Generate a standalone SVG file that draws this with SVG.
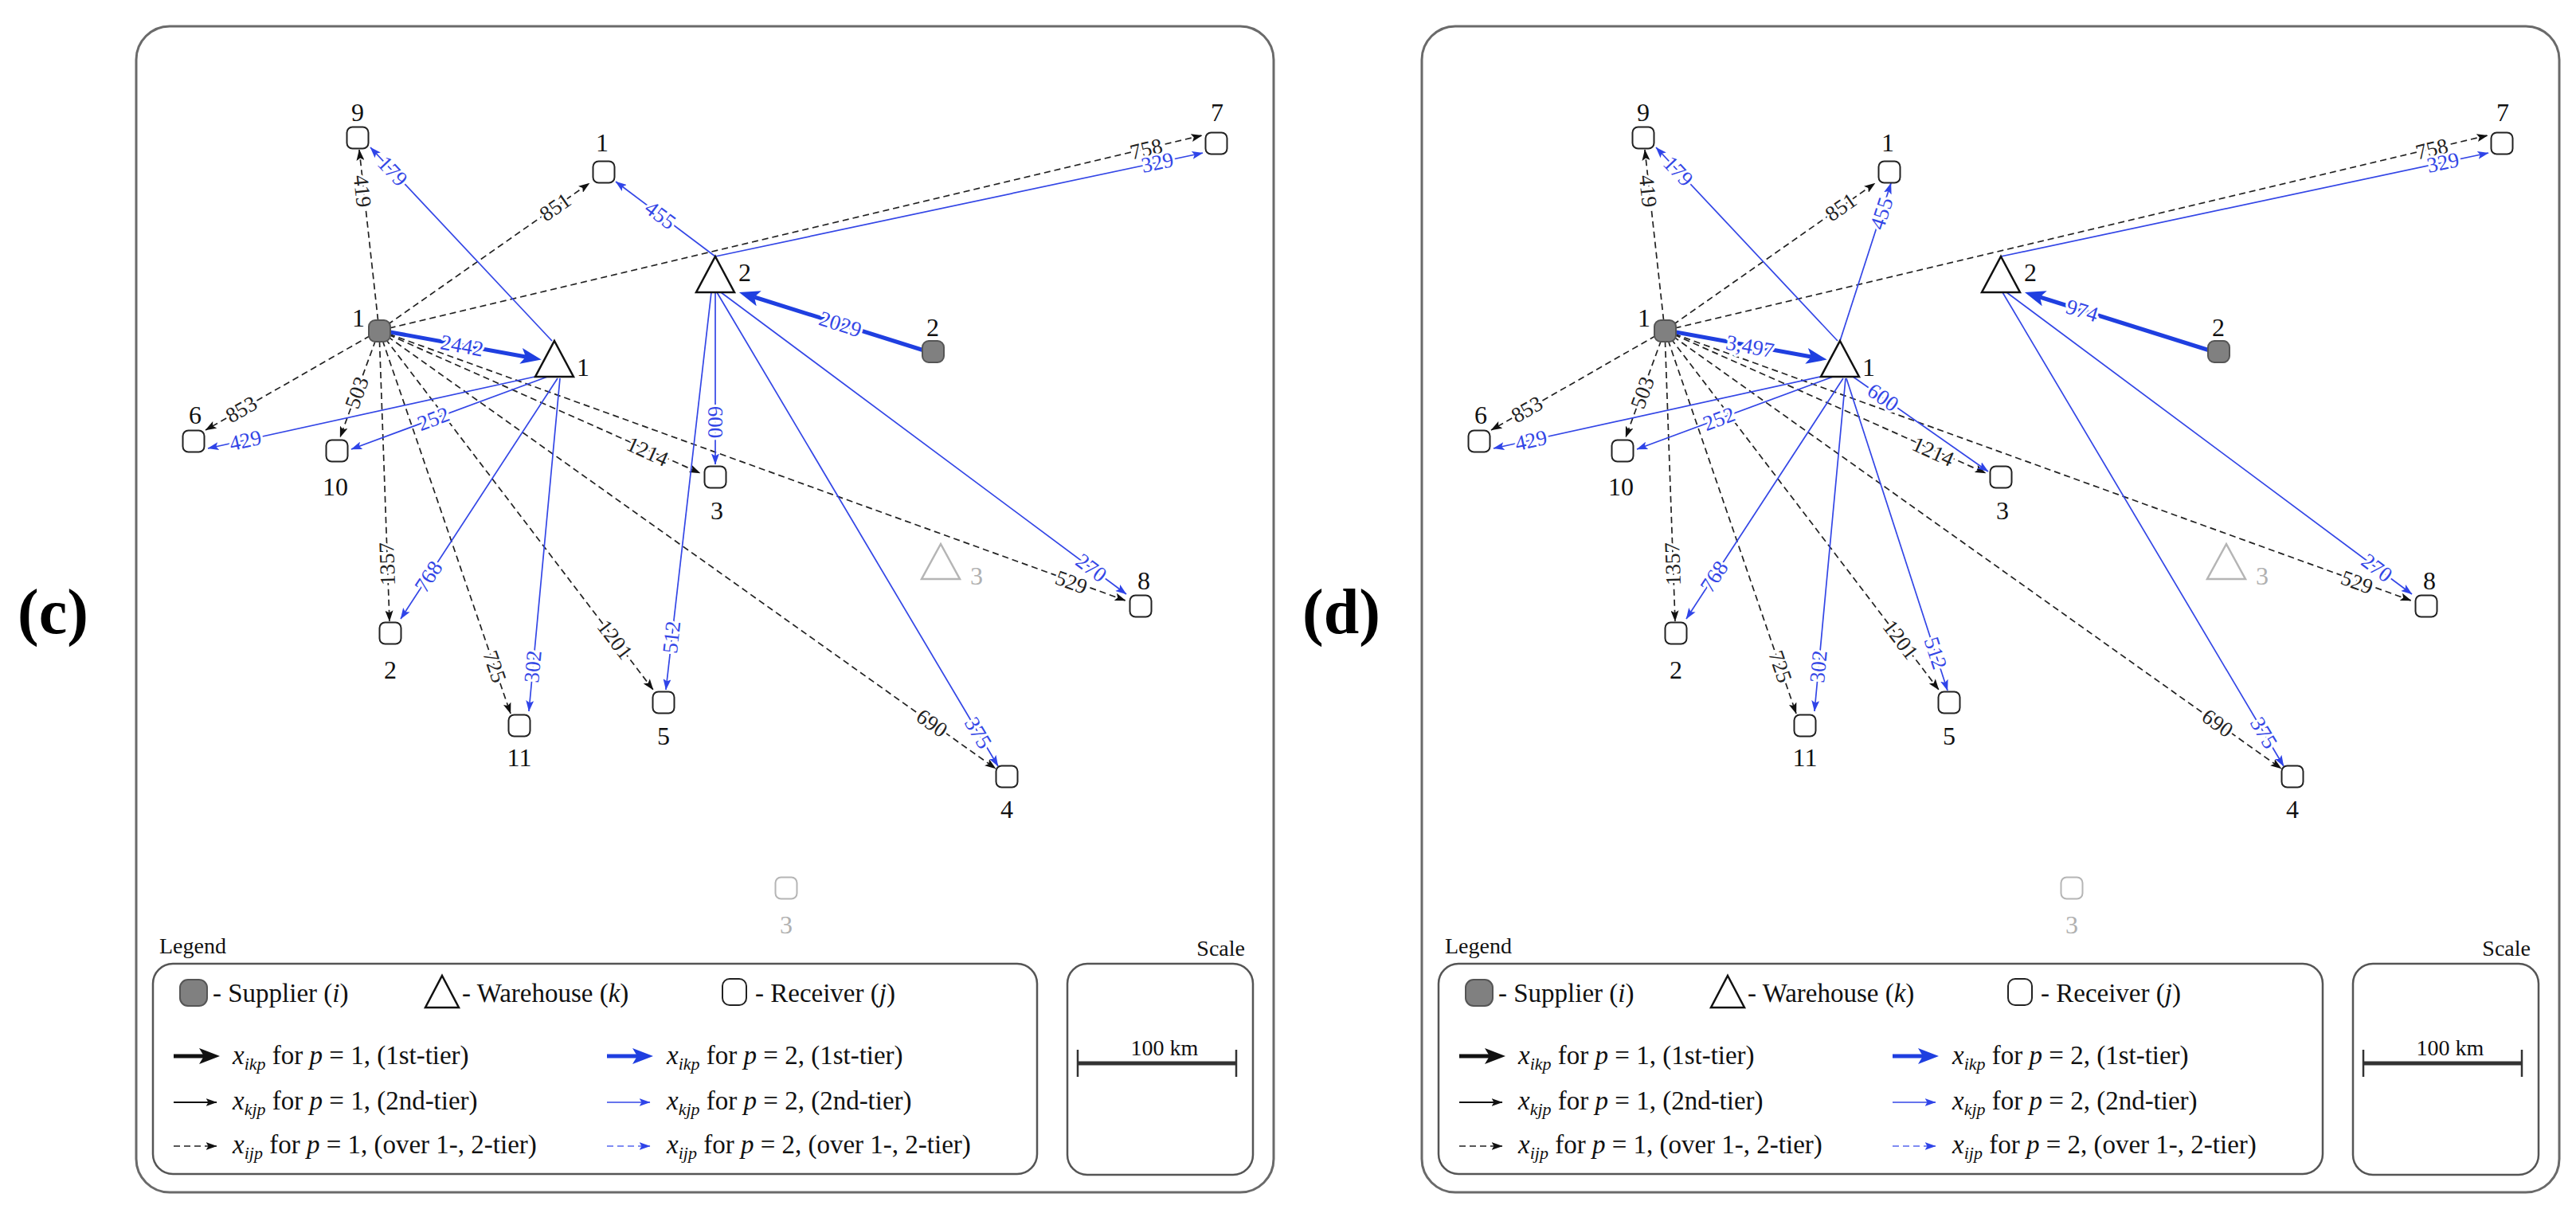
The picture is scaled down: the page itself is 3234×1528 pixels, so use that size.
<svg xmlns="http://www.w3.org/2000/svg" width="3234" height="1528" viewBox="0 0 3234 1528">
<style>
.bg{fill:#fff}
.frame{fill:none;stroke:#6a6a6a;stroke-width:3}
.box{fill:none;stroke:#555;stroke-width:2.5}
.dash{stroke:#222;stroke-width:1.7;stroke-dasharray:8 5;fill:none;marker-end:url(#ak)}
.dashb{stroke:#5566ee;stroke-width:1.7;stroke-dasharray:8 5;fill:none;marker-end:url(#ab)}
.blu{stroke:#3346e6;stroke-width:1.7;fill:none;marker-end:url(#ab)}
.thk{stroke:#1f3fe0;stroke-width:5;fill:none;marker-end:url(#abt)}
.thkk{stroke:#111;stroke-width:5;fill:none;marker-end:url(#akt)}
.thin{stroke:#111;stroke-width:1.8;fill:none;marker-end:url(#ak)}
.rcv{fill:#fff;stroke:#222;stroke-width:2}
.sup{fill:#808080;stroke:#555;stroke-width:2}
.wh{fill:#fff;stroke:#111;stroke-width:2.5}
.gw{fill:#fff;stroke:#b5b5b5;stroke-width:2.5}
.gr{fill:#fff;stroke:#b5b5b5;stroke-width:2}
.nl{font-family:"Liberation Serif",serif;font-size:32px;fill:#111;text-anchor:middle}
.gl{font-family:"Liberation Serif",serif;font-size:32px;fill:#b0b0b0;text-anchor:middle}
.el{font-family:"Liberation Serif",serif;font-size:27px;text-anchor:middle;dominant-baseline:central;paint-order:stroke;stroke:#fff;stroke-width:6px;stroke-linejoin:round}
.k{fill:#222}
.b{fill:#3346e6}
.lg{font-family:"Liberation Serif",serif;font-size:33px;fill:#111}
.ttl{font-family:"Liberation Serif",serif;font-size:28px;fill:#111}
.pl{font-family:"Liberation Serif",serif;font-weight:bold;font-size:80px;fill:#000}
.it{font-style:italic}
.sb{font-style:italic;font-size:22px}
</style>
<defs>
<marker id="ak" viewBox="0 0 14 10" refX="13.5" refY="5" markerWidth="14" markerHeight="10" orient="auto" markerUnits="userSpaceOnUse"><path d="M0,0 L14,5 L0,10 L3,5 z" fill="#111"/></marker>
<marker id="ab" viewBox="0 0 14 10" refX="13.5" refY="5" markerWidth="14" markerHeight="10" orient="auto" markerUnits="userSpaceOnUse"><path d="M0,0 L14,5 L0,10 L3,5 z" fill="#2f44e8"/></marker>
<marker id="abt" viewBox="0 0 26 20" refX="6" refY="10" markerWidth="26" markerHeight="20" orient="auto" markerUnits="userSpaceOnUse"><path d="M0,0 L26,10 L0,20 L6,10 z" fill="#1f3fe0"/></marker>
<marker id="akt" viewBox="0 0 26 20" refX="6" refY="10" markerWidth="26" markerHeight="20" orient="auto" markerUnits="userSpaceOnUse"><path d="M0,0 L26,10 L0,20 L6,10 z" fill="#111"/></marker>
</defs>
<rect class="bg" x="0" y="0" width="3234" height="1528"/>

<text class="pl" x="22" y="795">(c)</text>
<text class="pl" x="1635" y="795">(d)</text>

<!-- ================= PANEL C ================= -->
<g id="panel-c">
<rect class="frame" x="171" y="33" width="1428" height="1464" rx="42"/>
<g id="c-connectors">
<line class="dash" x1="476" y1="415" x2="451" y2="188"/>
<line class="dash" x1="476" y1="415" x2="740" y2="230"/>
<line class="dash" x1="476" y1="415" x2="1509" y2="170"/>
<line class="dash" x1="476" y1="415" x2="258" y2="540"/>
<line class="dash" x1="476" y1="415" x2="427" y2="549"/>
<line class="dash" x1="476" y1="415" x2="489" y2="780"/>
<line class="dash" x1="476" y1="415" x2="641" y2="896"/>
<line class="dash" x1="476" y1="415" x2="820" y2="866"/>
<line class="dash" x1="476" y1="415" x2="879" y2="594"/>
<line class="dash" x1="476" y1="415" x2="1413" y2="754"/>
<line class="dash" x1="476" y1="415" x2="1250" y2="965"/>
<line class="blu" x1="693" y1="428" x2="465" y2="185"/>
<line class="blu" x1="685" y1="470" x2="261" y2="563"/>
<line class="blu" x1="690" y1="472" x2="441" y2="564"/>
<line class="blu" x1="700" y1="475" x2="503" y2="777"/>
<line class="blu" x1="703" y1="475" x2="664" y2="893"/>
<line class="thk" x1="490" y1="417" x2="660" y2="448"/>
<line class="blu" x1="898" y1="322" x2="773" y2="228"/>
<line class="blu" x1="898" y1="322" x2="1510" y2="192"/>
<line class="blu" x1="898" y1="367" x2="898" y2="583"/>
<line class="blu" x1="893" y1="367" x2="836" y2="866"/>
<line class="blu" x1="900" y1="367" x2="1253" y2="962"/>
<line class="blu" x1="905" y1="367" x2="1414" y2="746"/>
<line class="thk" x1="1160" y1="440" x2="947" y2="373"/>
<g id="c-edge-labels">
<text class="el k" x="455" y="240" transform="rotate(83.7 455 240)">419</text>
<text class="el k" x="697" y="260" transform="rotate(-35 697 260)">851</text>
<text class="el k" x="1439" y="187" transform="rotate(-13.3 1439 187)">758</text>
<text class="el k" x="303" y="514" transform="rotate(-29.8 303 514)">853</text>
<text class="el k" x="448" y="493" transform="rotate(-69.9 448 493)">503</text>
<text class="el k" x="486" y="708" transform="rotate(-92 486 708)">1357</text>
<text class="el k" x="621" y="837" transform="rotate(71.1 621 837)">725</text>
<text class="el k" x="772" y="803" transform="rotate(52.7 772 803)">1201</text>
<text class="el k" x="813" y="567" transform="rotate(24.3 813 567)">1214</text>
<text class="el k" x="1345" y="731" transform="rotate(20 1345 731)">529</text>
<text class="el k" x="1170" y="908" transform="rotate(35.4 1170 908)">690</text>
<text class="el b" x="493" y="215" transform="rotate(46.8 493 215)">179</text>
<text class="el b" x="308" y="553" transform="rotate(-12.4 308 553)">429</text>
<text class="el b" x="544" y="526" transform="rotate(-20.5 544 526)">252</text>
<text class="el b" x="538" y="724" transform="rotate(-56.9 538 724)">768</text>
<text class="el b" x="669" y="837" transform="rotate(-84.7 669 837)">302</text>
<text class="el b" x="580" y="434" transform="rotate(10.4 580 434)">2442</text>
<text class="el b" x="829" y="270" transform="rotate(37 829 270)">455</text>
<text class="el b" x="1453" y="204" transform="rotate(-12 1453 204)">329</text>
<text class="el b" x="898" y="530" transform="rotate(90 898 530)">600</text>
<text class="el b" x="843" y="800" transform="rotate(-83.5 843 800)">512</text>
<text class="el b" x="1228" y="920" transform="rotate(59.3 1228 920)">375</text>
<text class="el b" x="1370" y="713" transform="rotate(36.7 1370 713)">270</text>
<text class="el b" x="1055" y="407" transform="rotate(17.5 1055 407)">2029</text>
</g>
</g>
<g id="c-supplier-1"><rect class="sup" x="463" y="402" width="27" height="27" rx="8"/><text class="nl" x="450" y="410">1</text></g>
<g id="c-supplier-2"><rect class="sup" x="1158" y="428" width="27" height="27" rx="8"/><text class="nl" x="1171" y="422">2</text></g>
<g id="c-warehouse-1"><polygon class="wh" points="696,428 720,473 672,473"/><text class="nl" x="732" y="472">1</text></g>
<g id="c-warehouse-2"><polygon class="wh" points="898,322 922,367 874,367"/><text class="nl" x="935" y="353">2</text></g>
<g id="c-warehouse-3"><polygon class="gw" points="1181,683 1205,727 1157,727"/><text class="gl" x="1226" y="734">3</text></g>
<g id="c-receiver-1"><rect class="rcv" x="744.5" y="202.5" width="27" height="27" rx="7"/><text class="nl" x="756" y="190">1</text></g>
<g id="c-receiver-2"><rect class="rcv" x="476.5" y="781.5" width="27" height="27" rx="7"/><text class="nl" x="490" y="852">2</text></g>
<g id="c-receiver-3"><rect class="rcv" x="884.5" y="585.5" width="27" height="27" rx="7"/><text class="nl" x="900" y="652">3</text></g>
<g id="c-receiver-4"><rect class="rcv" x="1250.5" y="961.5" width="27" height="27" rx="7"/><text class="nl" x="1264" y="1027">4</text></g>
<g id="c-receiver-5"><rect class="rcv" x="819.5" y="868.5" width="27" height="27" rx="7"/><text class="nl" x="833" y="935">5</text></g>
<g id="c-receiver-6"><rect class="rcv" x="229.5" y="540.5" width="27" height="27" rx="7"/><text class="nl" x="245" y="532">6</text></g>
<g id="c-receiver-7"><rect class="rcv" x="1513.5" y="166.5" width="27" height="27" rx="7"/><text class="nl" x="1528" y="152">7</text></g>
<g id="c-receiver-8"><rect class="rcv" x="1418.5" y="747.5" width="27" height="27" rx="7"/><text class="nl" x="1436" y="740">8</text></g>
<g id="c-receiver-9"><rect class="rcv" x="435.5" y="159.5" width="27" height="27" rx="7"/><text class="nl" x="449" y="152">9</text></g>
<g id="c-receiver-10"><rect class="rcv" x="409.5" y="552.5" width="27" height="27" rx="7"/><text class="nl" x="421" y="622">10</text></g>
<g id="c-receiver-11"><rect class="rcv" x="638.5" y="897.5" width="27" height="27" rx="7"/><text class="nl" x="652" y="962">11</text></g>
<g id="c-receiver-3-unused"><rect class="gr" x="973.5" y="1101.5" width="27" height="27" rx="7"/><text class="gl" x="987" y="1172">3</text></g>
<g id="c-legend">
<text class="ttl" x="200" y="1197">Legend</text>
<rect class="box" x="192" y="1210" width="1110" height="264" rx="25"/>
<rect class="sup" x="226" y="1230" width="34" height="33" rx="10"/>
<text class="lg" x="267" y="1258">- Supplier (<tspan class="it">i</tspan>)</text>
<polygon class="wh" points="555,1225 576,1265 534,1265"/>
<text class="lg" x="580" y="1258">- Warehouse (<tspan class="it">k</tspan>)</text>
<rect class="rcv" x="907" y="1229" width="30" height="33" rx="9"/>
<text class="lg" x="948" y="1258">- Receiver (<tspan class="it">j</tspan>)</text>
<line class="thkk" x1="218" y1="1326" x2="256" y2="1326"/>
<line class="thin" x1="218" y1="1384" x2="272" y2="1384"/>
<line class="dash" x1="218" y1="1439" x2="272" y2="1439"/>
<text class="lg" x="292" y="1336"><tspan class="it">x</tspan><tspan class="sb" dy="7">ikp</tspan><tspan dy="-7"> for </tspan><tspan class="it">p</tspan> = 1, (1st-tier)</text>
<text class="lg" x="292" y="1393"><tspan class="it">x</tspan><tspan class="sb" dy="7">kjp</tspan><tspan dy="-7"> for </tspan><tspan class="it">p</tspan> = 1, (2nd-tier)</text>
<text class="lg" x="292" y="1448"><tspan class="it">x</tspan><tspan class="sb" dy="7">ijp</tspan><tspan dy="-7"> for </tspan><tspan class="it">p</tspan> = 1, (over 1-, 2-tier)</text>
<line class="thk" x1="762" y1="1326" x2="800" y2="1326"/>
<line class="blu" x1="762" y1="1384" x2="816" y2="1384"/>
<line class="dashb" x1="762" y1="1439" x2="816" y2="1439"/>
<text class="lg" x="837" y="1336"><tspan class="it">x</tspan><tspan class="sb" dy="7">ikp</tspan><tspan dy="-7"> for </tspan><tspan class="it">p</tspan> = 2, (1st-tier)</text>
<text class="lg" x="837" y="1393"><tspan class="it">x</tspan><tspan class="sb" dy="7">kjp</tspan><tspan dy="-7"> for </tspan><tspan class="it">p</tspan> = 2, (2nd-tier)</text>
<text class="lg" x="837" y="1448"><tspan class="it">x</tspan><tspan class="sb" dy="7">ijp</tspan><tspan dy="-7"> for </tspan><tspan class="it">p</tspan> = 2, (over 1-, 2-tier)</text>
</g>
<g id="c-scale">
<text class="ttl" x="1563" y="1200" text-anchor="end">Scale</text>
<rect class="box" x="1340" y="1210" width="233" height="265" rx="25"/>
<line x1="1353" y1="1335" x2="1552" y2="1335" stroke="#333" stroke-width="5"/>
<line x1="1353" y1="1318" x2="1353" y2="1352" stroke="#333" stroke-width="2.5"/>
<line x1="1552" y1="1318" x2="1552" y2="1352" stroke="#333" stroke-width="2.5"/>
<text class="ttl" x="1462" y="1325" text-anchor="middle">100 km</text>
</g>
</g>

<!-- ================= PANEL D ================= -->
<g id="panel-d" transform="translate(1614,0)">
<rect class="frame" x="171" y="33" width="1428" height="1464" rx="42"/>
<g id="d-connectors">
<line class="dash" x1="476" y1="415" x2="451" y2="188"/>
<line class="dash" x1="476" y1="415" x2="740" y2="230"/>
<line class="dash" x1="476" y1="415" x2="1509" y2="170"/>
<line class="dash" x1="476" y1="415" x2="258" y2="540"/>
<line class="dash" x1="476" y1="415" x2="427" y2="549"/>
<line class="dash" x1="476" y1="415" x2="489" y2="780"/>
<line class="dash" x1="476" y1="415" x2="641" y2="896"/>
<line class="dash" x1="476" y1="415" x2="820" y2="866"/>
<line class="dash" x1="476" y1="415" x2="879" y2="594"/>
<line class="dash" x1="476" y1="415" x2="1413" y2="754"/>
<line class="dash" x1="476" y1="415" x2="1250" y2="965"/>
<line class="blu" x1="693" y1="428" x2="465" y2="185"/>
<line class="blu" x1="685" y1="470" x2="261" y2="563"/>
<line class="blu" x1="690" y1="472" x2="441" y2="564"/>
<line class="blu" x1="700" y1="475" x2="503" y2="777"/>
<line class="blu" x1="703" y1="475" x2="664" y2="893"/>
<line class="blu" x1="696" y1="428" x2="760" y2="230"/>
<line class="blu" x1="704" y1="475" x2="831" y2="867"/>
<line class="blu" x1="708" y1="470" x2="882" y2="592"/>
<line class="thk" x1="490" y1="417" x2="660" y2="448"/>
<line class="blu" x1="898" y1="322" x2="1510" y2="192"/>
<line class="blu" x1="900" y1="367" x2="1253" y2="962"/>
<line class="blu" x1="905" y1="367" x2="1414" y2="746"/>
<line class="thk" x1="1160" y1="440" x2="947" y2="373"/>
<g id="d-edge-labels">
<text class="el k" x="455" y="240" transform="rotate(83.7 455 240)">419</text>
<text class="el k" x="697" y="260" transform="rotate(-35 697 260)">851</text>
<text class="el k" x="1439" y="187" transform="rotate(-13.3 1439 187)">758</text>
<text class="el k" x="303" y="514" transform="rotate(-29.8 303 514)">853</text>
<text class="el k" x="448" y="493" transform="rotate(-69.9 448 493)">503</text>
<text class="el k" x="486" y="708" transform="rotate(-92 486 708)">1357</text>
<text class="el k" x="621" y="837" transform="rotate(71.1 621 837)">725</text>
<text class="el k" x="772" y="803" transform="rotate(52.7 772 803)">1201</text>
<text class="el k" x="813" y="567" transform="rotate(24.3 813 567)">1214</text>
<text class="el k" x="1345" y="731" transform="rotate(20 1345 731)">529</text>
<text class="el k" x="1170" y="908" transform="rotate(35.4 1170 908)">690</text>
<text class="el b" x="493" y="215" transform="rotate(46.8 493 215)">179</text>
<text class="el b" x="308" y="553" transform="rotate(-12.4 308 553)">429</text>
<text class="el b" x="544" y="526" transform="rotate(-20.5 544 526)">252</text>
<text class="el b" x="538" y="724" transform="rotate(-56.9 538 724)">768</text>
<text class="el b" x="669" y="837" transform="rotate(-84.7 669 837)">302</text>
<text class="el b" x="748" y="268" transform="rotate(-72.1 748 268)">455</text>
<text class="el b" x="816" y="820" transform="rotate(72 816 820)">512</text>
<text class="el b" x="750" y="499" transform="rotate(34.7 750 499)">600</text>
<text class="el b" x="583" y="435" transform="rotate(10.4 583 435)">3,497</text>
<text class="el b" x="1453" y="204" transform="rotate(-12 1453 204)">329</text>
<text class="el b" x="1228" y="920" transform="rotate(59.3 1228 920)">375</text>
<text class="el b" x="1370" y="713" transform="rotate(36.7 1370 713)">270</text>
<text class="el b" x="1000" y="390" transform="rotate(17.5 1000 390)">974</text>
</g>
</g>
<g id="d-supplier-1"><rect class="sup" x="463" y="402" width="27" height="27" rx="8"/><text class="nl" x="450" y="410">1</text></g>
<g id="d-supplier-2"><rect class="sup" x="1158" y="428" width="27" height="27" rx="8"/><text class="nl" x="1171" y="422">2</text></g>
<g id="d-warehouse-1"><polygon class="wh" points="696,428 720,473 672,473"/><text class="nl" x="732" y="472">1</text></g>
<g id="d-warehouse-2"><polygon class="wh" points="898,322 922,367 874,367"/><text class="nl" x="935" y="353">2</text></g>
<g id="d-warehouse-3"><polygon class="gw" points="1181,683 1205,727 1157,727"/><text class="gl" x="1226" y="734">3</text></g>
<g id="d-receiver-1"><rect class="rcv" x="744.5" y="202.5" width="27" height="27" rx="7"/><text class="nl" x="756" y="190">1</text></g>
<g id="d-receiver-2"><rect class="rcv" x="476.5" y="781.5" width="27" height="27" rx="7"/><text class="nl" x="490" y="852">2</text></g>
<g id="d-receiver-3"><rect class="rcv" x="884.5" y="585.5" width="27" height="27" rx="7"/><text class="nl" x="900" y="652">3</text></g>
<g id="d-receiver-4"><rect class="rcv" x="1250.5" y="961.5" width="27" height="27" rx="7"/><text class="nl" x="1264" y="1027">4</text></g>
<g id="d-receiver-5"><rect class="rcv" x="819.5" y="868.5" width="27" height="27" rx="7"/><text class="nl" x="833" y="935">5</text></g>
<g id="d-receiver-6"><rect class="rcv" x="229.5" y="540.5" width="27" height="27" rx="7"/><text class="nl" x="245" y="532">6</text></g>
<g id="d-receiver-7"><rect class="rcv" x="1513.5" y="166.5" width="27" height="27" rx="7"/><text class="nl" x="1528" y="152">7</text></g>
<g id="d-receiver-8"><rect class="rcv" x="1418.5" y="747.5" width="27" height="27" rx="7"/><text class="nl" x="1436" y="740">8</text></g>
<g id="d-receiver-9"><rect class="rcv" x="435.5" y="159.5" width="27" height="27" rx="7"/><text class="nl" x="449" y="152">9</text></g>
<g id="d-receiver-10"><rect class="rcv" x="409.5" y="552.5" width="27" height="27" rx="7"/><text class="nl" x="421" y="622">10</text></g>
<g id="d-receiver-11"><rect class="rcv" x="638.5" y="897.5" width="27" height="27" rx="7"/><text class="nl" x="652" y="962">11</text></g>
<g id="d-receiver-3-unused"><rect class="gr" x="973.5" y="1101.5" width="27" height="27" rx="7"/><text class="gl" x="987" y="1172">3</text></g>
<g id="d-legend">
<text class="ttl" x="200" y="1197">Legend</text>
<rect class="box" x="192" y="1210" width="1110" height="264" rx="25"/>
<rect class="sup" x="226" y="1230" width="34" height="33" rx="10"/>
<text class="lg" x="267" y="1258">- Supplier (<tspan class="it">i</tspan>)</text>
<polygon class="wh" points="555,1225 576,1265 534,1265"/>
<text class="lg" x="580" y="1258">- Warehouse (<tspan class="it">k</tspan>)</text>
<rect class="rcv" x="907" y="1229" width="30" height="33" rx="9"/>
<text class="lg" x="948" y="1258">- Receiver (<tspan class="it">j</tspan>)</text>
<line class="thkk" x1="218" y1="1326" x2="256" y2="1326"/>
<line class="thin" x1="218" y1="1384" x2="272" y2="1384"/>
<line class="dash" x1="218" y1="1439" x2="272" y2="1439"/>
<text class="lg" x="292" y="1336"><tspan class="it">x</tspan><tspan class="sb" dy="7">ikp</tspan><tspan dy="-7"> for </tspan><tspan class="it">p</tspan> = 1, (1st-tier)</text>
<text class="lg" x="292" y="1393"><tspan class="it">x</tspan><tspan class="sb" dy="7">kjp</tspan><tspan dy="-7"> for </tspan><tspan class="it">p</tspan> = 1, (2nd-tier)</text>
<text class="lg" x="292" y="1448"><tspan class="it">x</tspan><tspan class="sb" dy="7">ijp</tspan><tspan dy="-7"> for </tspan><tspan class="it">p</tspan> = 1, (over 1-, 2-tier)</text>
<line class="thk" x1="762" y1="1326" x2="800" y2="1326"/>
<line class="blu" x1="762" y1="1384" x2="816" y2="1384"/>
<line class="dashb" x1="762" y1="1439" x2="816" y2="1439"/>
<text class="lg" x="837" y="1336"><tspan class="it">x</tspan><tspan class="sb" dy="7">ikp</tspan><tspan dy="-7"> for </tspan><tspan class="it">p</tspan> = 2, (1st-tier)</text>
<text class="lg" x="837" y="1393"><tspan class="it">x</tspan><tspan class="sb" dy="7">kjp</tspan><tspan dy="-7"> for </tspan><tspan class="it">p</tspan> = 2, (2nd-tier)</text>
<text class="lg" x="837" y="1448"><tspan class="it">x</tspan><tspan class="sb" dy="7">ijp</tspan><tspan dy="-7"> for </tspan><tspan class="it">p</tspan> = 2, (over 1-, 2-tier)</text>
</g>
<g id="d-scale">
<text class="ttl" x="1563" y="1200" text-anchor="end">Scale</text>
<rect class="box" x="1340" y="1210" width="233" height="265" rx="25"/>
<line x1="1353" y1="1335" x2="1552" y2="1335" stroke="#333" stroke-width="5"/>
<line x1="1353" y1="1318" x2="1353" y2="1352" stroke="#333" stroke-width="2.5"/>
<line x1="1552" y1="1318" x2="1552" y2="1352" stroke="#333" stroke-width="2.5"/>
<text class="ttl" x="1462" y="1325" text-anchor="middle">100 km</text>
</g>
</g>
</svg>
